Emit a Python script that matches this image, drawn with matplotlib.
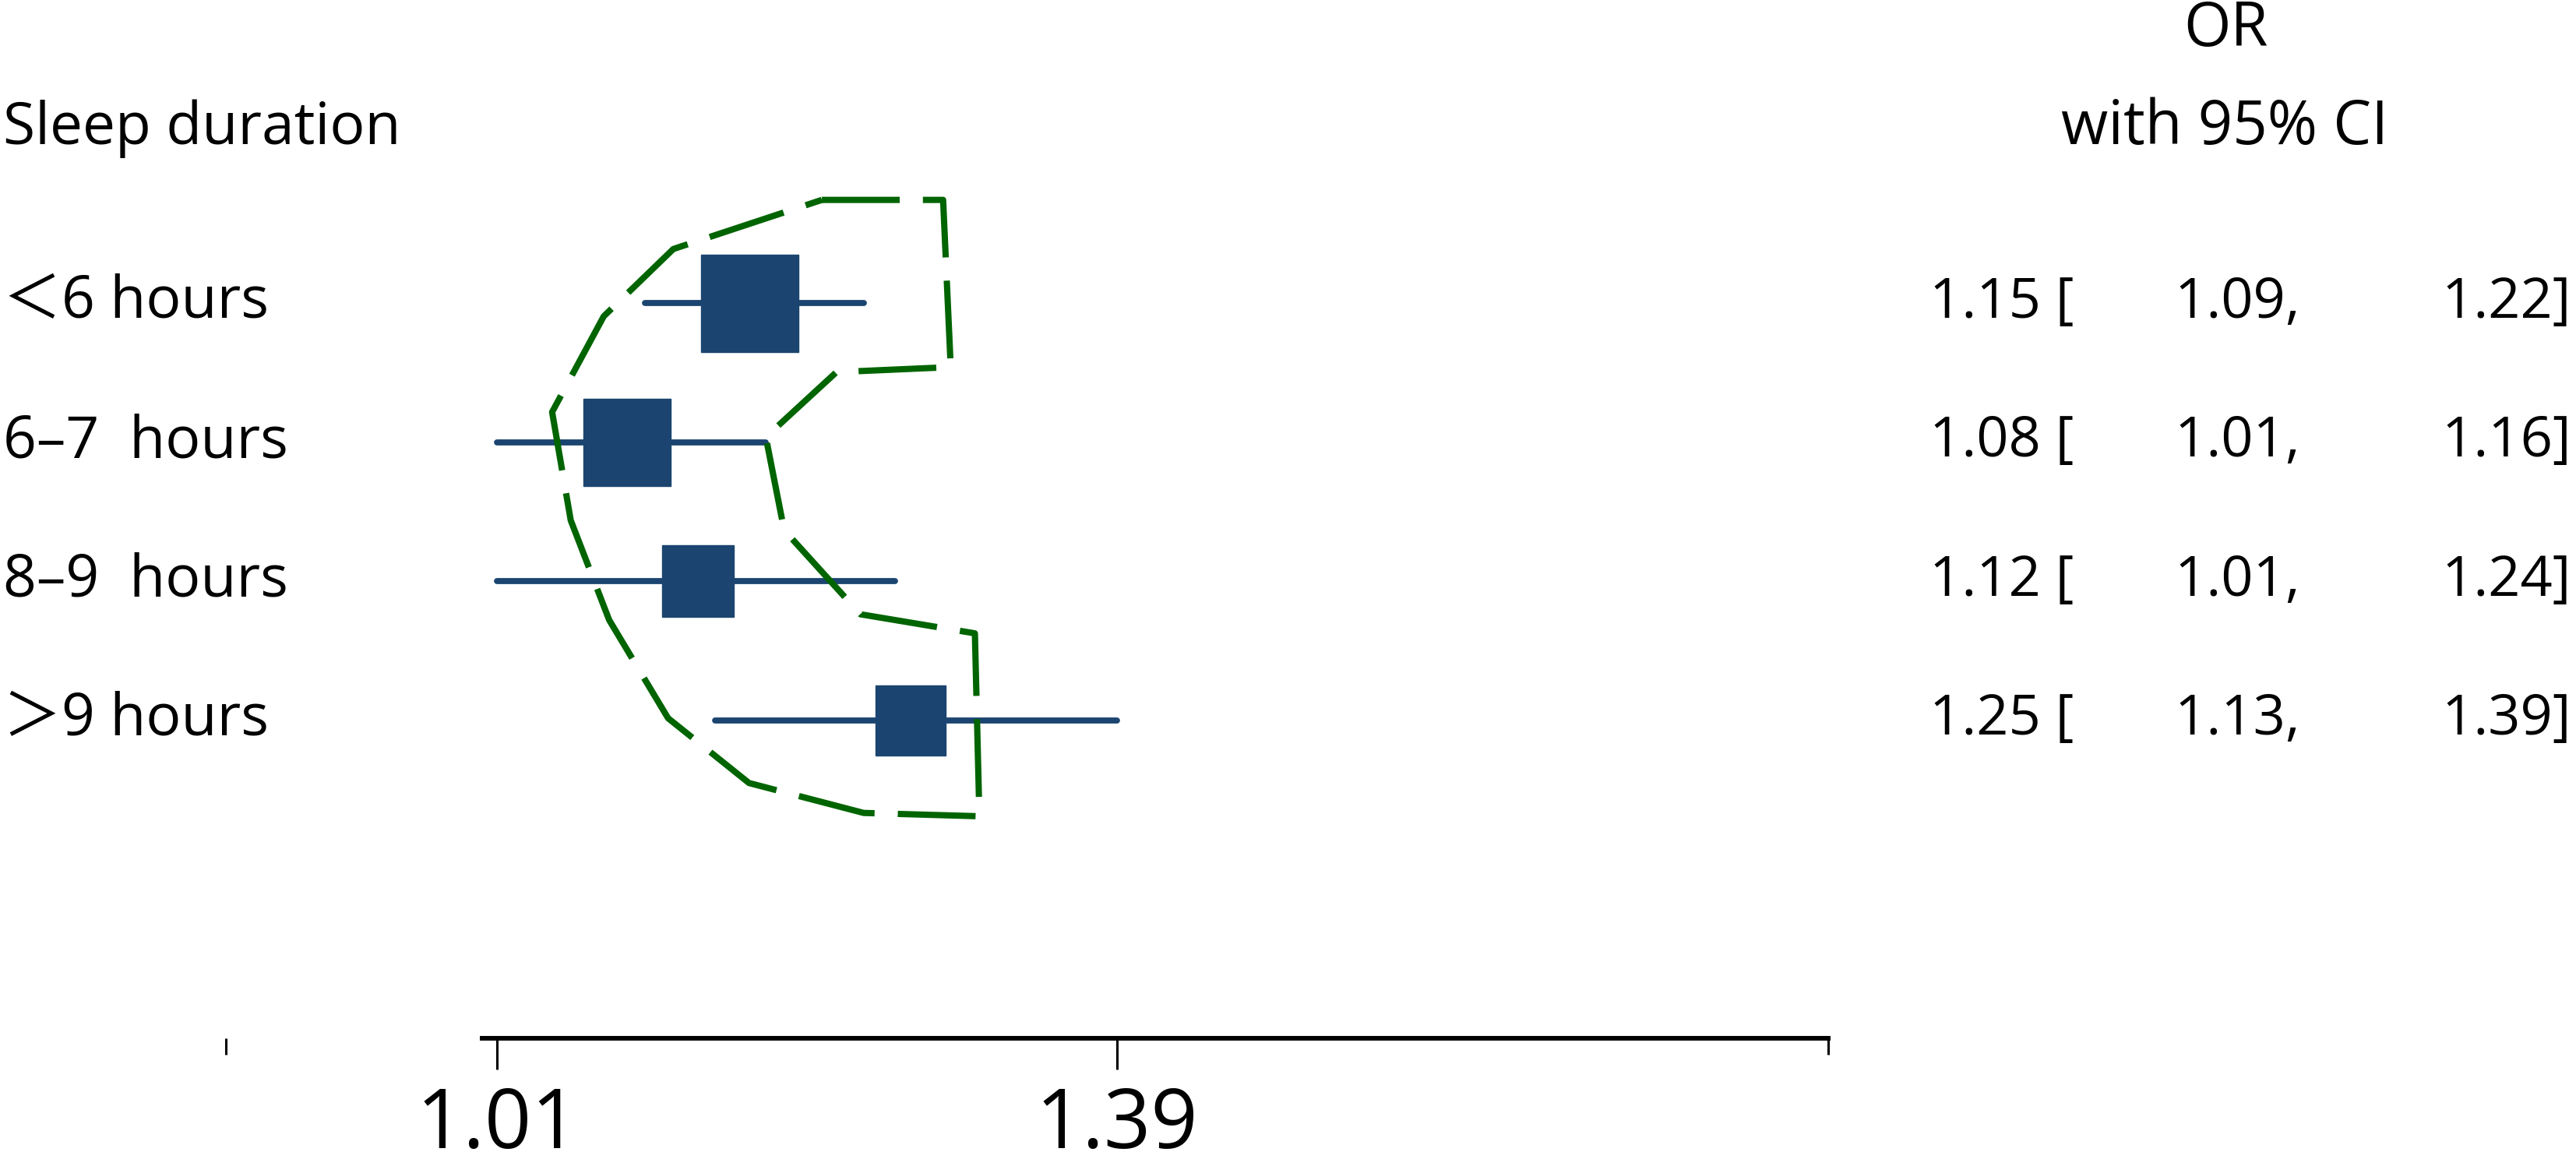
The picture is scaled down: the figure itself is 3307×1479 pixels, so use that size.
import matplotlib
matplotlib.use("Agg")
import matplotlib.pyplot as plt
from matplotlib import transforms
from matplotlib.ticker import FixedLocator, NullFormatter

# forest plot data
groups = ["＜6 hours", "6–7  hours", "8–9  hours", "＞9 hours"]
odds_ratio = [1.15, 1.08, 1.12, 1.25]
ci_lower = [1.09, 1.01, 1.01, 1.13]
ci_upper = [1.22, 1.16, 1.24, 1.39]
tick_values = [1.01, 1.39]
tick_labels = ["1.01", "1.39"]

# hand drawn dashed outline around the boxes (OR value, row index)
outline_x = [1.194, 1.271, 1.276, 1.203, 1.160, 1.171, 1.218, 1.292,
             1.295, 1.220, 1.150, 1.103, 1.070, 1.049, 1.039, 1.067, 1.106]
outline_y = [-0.741, -0.741, 0.461, 0.497, 0.964, 1.633, 2.238, 2.375,
             3.690, 3.666, 3.451, 2.985, 2.279, 1.562, 0.784, 0.096, -0.388]

box_sizes = [90, 81, 66, 65]
navy = "#1b4570"
green = "#006400"

plt.rcParams["font.family"] = ["Open Sans", "Noto Sans CJK SC", "DejaVu Sans"]

W, H = 3307, 1479
fig = plt.figure(figsize=(W / 100, H / 100), dpi=100)
ax = fig.add_axes([200 / W, (H - 1333) / H, 2200 / W, 1333 / H])
ax.set_xscale("log")
ax.set_xlim(0.847, 2.049)
ax.set_ylim(5.286, -2.178)
ax.patch.set_visible(False)

rows = list(range(len(groups)))
for r in rows:
    ax.plot([ci_lower[r], ci_upper[r]], [r, r], color=navy, lw=5.6,
            solid_capstyle="round", zorder=2)
    ax.plot(odds_ratio[r], r, marker="s", ms=box_sizes[r], color=navy,
            ls="none", zorder=3)

ox = outline_x + [outline_x[0]]
oy = outline_y + [outline_y[0]]
ax.plot(ox, oy, color=green, lw=5.8, dashes=(12.4, 3.7), zorder=4)

for s in ["left", "top", "right"]:
    ax.spines[s].set_visible(False)
ax.spines["bottom"].set_bounds(1.002, 2.006)
ax.spines["bottom"].set_linewidth(4.3)
ax.set_yticks([])
ax.xaxis.set_major_locator(FixedLocator(tick_values))
ax.set_xticklabels(tick_labels)
ax.xaxis.set_minor_locator(FixedLocator([0.878, 2.006]))
ax.xaxis.set_minor_formatter(NullFormatter())
ax.tick_params(axis="x", which="major", length=29, width=2.2, pad=14,
               labelsize=76)
ax.tick_params(axis="x", which="minor", length=15, width=2.2)

fs = 54
tr = transforms.blended_transform_factory(fig.transFigure, ax.transData)
for r in rows:
    ax.text(4 / W, r, groups[r], transform=tr, ha="left", va="center",
            fontsize=fs)
    ax.text(2662 / W, r, f"{odds_ratio[r]:.2f} [", transform=tr, ha="right",
            va="center", fontsize=52)
    ax.text(2953 / W, r, f"{ci_lower[r]:.2f},", transform=tr, ha="right",
            va="center", fontsize=52)
    ax.text(3301 / W, r, f"{ci_upper[r]:.2f}]", transform=tr, ha="right",
            va="center", fontsize=52)

fig.text(4 / W, 1 - 165 / H, "Sleep duration", ha="left", va="center",
         fontsize=fs)
fig.text(2858 / W, 1 - 38 / H, "OR", ha="center", va="center", fontsize=56)
fig.text(2856 / W, 1 - 165 / H, "with 95% CI", ha="center", va="center",
         fontsize=56)

fig.savefig("out.png", dpi=100)
